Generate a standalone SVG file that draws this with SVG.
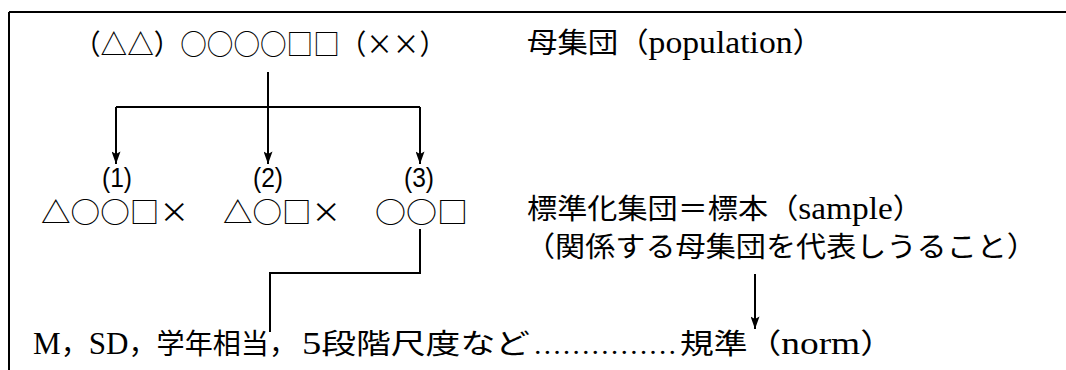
<svg xmlns="http://www.w3.org/2000/svg" width="1066" height="370" viewBox="0 0 1066 370">
<defs>
<marker id="ah" viewBox="0 0 14 10" refX="14" refY="5" markerWidth="13" markerHeight="9" markerUnits="userSpaceOnUse" orient="auto">
<path d="M0,0 L14,5 L0,10 L3,5 Z" fill="#000"/>
</marker>
<style>
.t{font-family:"Liberation Serif","Noto Sans CJK JP",serif;font-size:28px;fill:#000}
.s{font-family:"Noto Sans CJK JP",sans-serif;font-size:28px;fill:#000}
.n{font-family:"Liberation Sans Narrow","Liberation Sans",sans-serif;font-size:27px;fill:#000;text-anchor:middle}
.lg{font-size:31px}
.ln{stroke:#000;stroke-width:2;fill:none}
.ar{stroke:#000;stroke-width:2;fill:none;marker-end:url(#ah)}
</style>
</defs>
<rect width="1066" height="370" fill="#fff"/>
<g id="frame">
<path class="ln" d="M9,12 H1066 M9,12 V370"/>
</g>
<g id="population">
<text class="s" x="74" y="55" textLength="372" lengthAdjust="spacingAndGlyphs">（△△）○○○○□□（××）</text>
<text class="t" x="527" y="53" textLength="296" lengthAdjust="spacingAndGlyphs">母集団（<tspan class="lg">population</tspan>）</text>
</g>
<g id="sample1">
<text class="n" x="117" y="187" textLength="30" lengthAdjust="spacingAndGlyphs">(1)</text>
<text class="s" x="41" y="223" textLength="148" lengthAdjust="spacingAndGlyphs">△○○□×</text>
</g>
<g id="sample2">
<text class="n" x="268" y="187" textLength="30" lengthAdjust="spacingAndGlyphs">(2)</text>
<text class="s" x="223" y="223" textLength="118" lengthAdjust="spacingAndGlyphs">△○□×</text>
</g>
<g id="sample3">
<text class="n" x="419" y="187" textLength="30" lengthAdjust="spacingAndGlyphs">(3)</text>
<text class="s" x="375" y="223" textLength="93" lengthAdjust="spacingAndGlyphs">○○□</text>
</g>
<g id="sample-label">
<text class="t" x="527" y="219" textLength="396" lengthAdjust="spacingAndGlyphs">標準化集団＝標本（<tspan class="lg">sample</tspan>）</text>
<text class="t" x="525" y="257" textLength="512" lengthAdjust="spacingAndGlyphs">（関係する母集団を代表しうること）</text>
</g>
<g id="norm">
<text class="t" x="33" y="354" textLength="264" lengthAdjust="spacingAndGlyphs"><tspan class="lg">M</tspan>，<tspan class="lg">SD</tspan>，学年相当，</text>
<text class="t" x="302" y="354" textLength="228" lengthAdjust="spacingAndGlyphs"><tspan class="lg">5</tspan>段階尺度など</text>
<text class="t" x="533" y="354" textLength="144" lengthAdjust="spacingAndGlyphs">……………</text>
<text class="t" x="680" y="354" textLength="214" lengthAdjust="spacingAndGlyphs">規準（<tspan class="lg">norm</tspan>）</text>
</g>
<g id="connectors">
<path class="ln" d="M268,72 V107 M116,107 H420"/>
<path class="ar" d="M116,107 V164"/>
<path class="ar" d="M268,107 V164"/>
<path class="ar" d="M420,107 V164"/>
<path class="ln" d="M420,229 V273 H270 V332"/>
<path class="ar" d="M755,274 V329"/>
</g>
</svg>
